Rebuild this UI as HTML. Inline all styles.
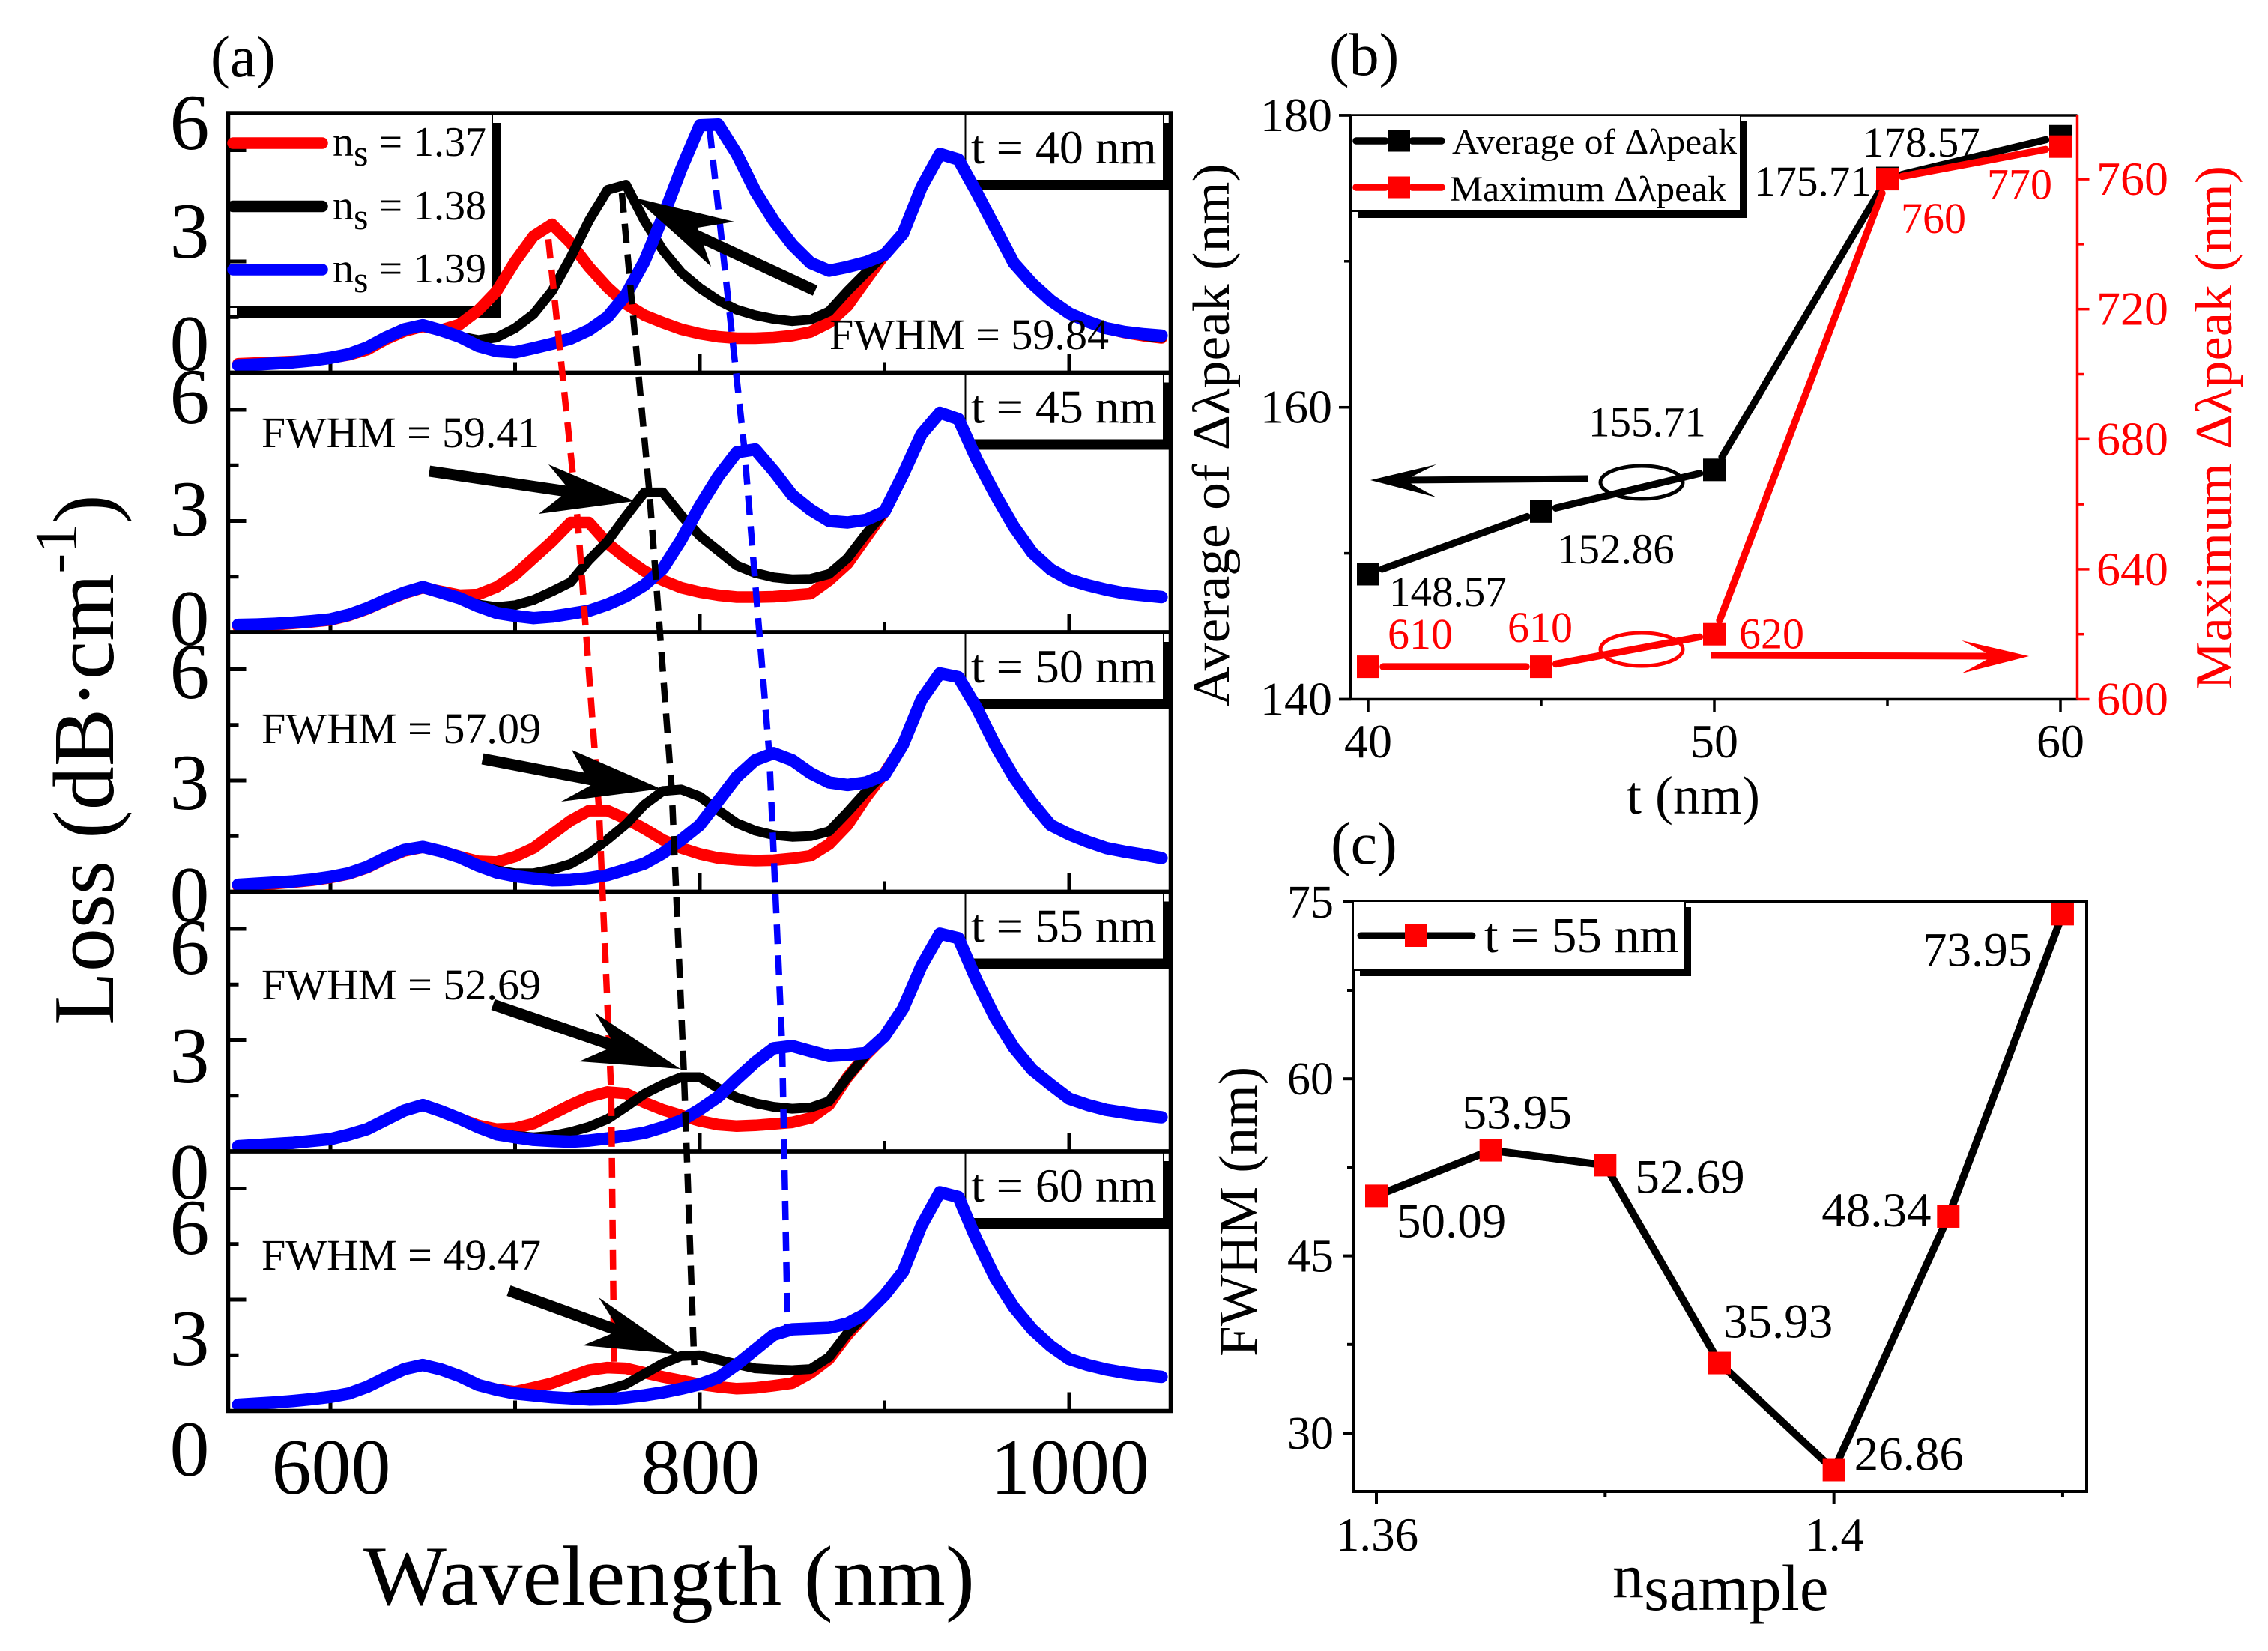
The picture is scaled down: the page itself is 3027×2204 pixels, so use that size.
<!DOCTYPE html>
<html lang="en">
<head>
<meta charset="utf-8">
<title>Loss spectra and peak shift charts</title>
<style>
html,body{margin:0;padding:0;background:#fff;}
svg{display:block;font-family:"Liberation Serif","DejaVu Serif",serif;}
</style>
</head>
<body>
<svg id="figure" xmlns="http://www.w3.org/2000/svg" width="3027" height="2204" viewBox="0 0 3027 2204">
<rect x="0" y="0" width="3027" height="2204" fill="#fff"/>

<g id="a-boxes">
  <g>
    <rect x="304" y="151" width="353" height="259" fill="#fff" stroke="#000" stroke-width="2"/>
    <rect x="657" y="164" width="11" height="260" fill="#000"/>
    <rect x="316" y="410" width="352" height="14" fill="#000"/>
  </g>
</g>
<g id="a-ticks"></g>
<g id="a-curves"></g>
<g id="a-frames"></g>
<g id="a-dashes"></g>
<g id="a-labels"></g>

<g>
  <g>
    <line x1="311" y1="191" x2="430" y2="191" stroke="#f00" stroke-width="15.5" stroke-linecap="round"/>
    <text x="444" y="208" font-size="56">n<tspan font-size="50" dy="13">s</tspan><tspan dy="-13"> = 1.37</tspan></text>
  </g>
  <g>
    <line x1="311" y1="275.500" x2="430" y2="275.500" stroke="#000" stroke-width="15.5" stroke-linecap="round"/>
    <text x="444" y="293" font-size="56">n<tspan font-size="50" dy="13">s</tspan><tspan dy="-13"> = 1.38</tspan></text>
  </g>
  <g>
    <line x1="311" y1="360" x2="430" y2="360" stroke="#00f" stroke-width="15.5" stroke-linecap="round"/>
    <text x="444" y="377" font-size="56">n<tspan font-size="50" dy="13">s</tspan><tspan dy="-13"> = 1.39</tspan></text>
  </g>
</g>

<g font-size="58">
  <text x="1107" y="466" textLength="373" lengthAdjust="spacingAndGlyphs">FWHM = 59.84</text>
  <text x="349" y="597" textLength="371" lengthAdjust="spacingAndGlyphs">FWHM = 59.41</text>
  <text x="349" y="992" textLength="373" lengthAdjust="spacingAndGlyphs">FWHM = 57.09</text>
  <text x="349" y="1334" textLength="373" lengthAdjust="spacingAndGlyphs">FWHM = 52.69</text>
  <text x="349" y="1695" textLength="373" lengthAdjust="spacingAndGlyphs">FWHM = 49.47</text>
</g>

<g fill="#000" stroke="#000">
  <g><polygon stroke="none" points="847,264 980,296 931,304 949,356 912,322"/><line x1="1088" y1="388" x2="920" y2="310" stroke-width="15"/></g>
  <g><line x1="573" y1="629" x2="770" y2="658" stroke-width="15"/><polygon stroke="none" points="847,669 732,620 760,654 719,686"/></g>
  <g><line x1="644" y1="1013" x2="795" y2="1042" stroke-width="15"/><polygon stroke="none" points="882,1053 763,1001 789,1048 749,1070"/></g>
  <g><line x1="658" y1="1341" x2="825" y2="1398" stroke-width="15"/><polygon stroke="none" points="908,1427 794,1352 821,1396 773,1417"/></g>
  <g><line x1="679" y1="1723" x2="830" y2="1778" stroke-width="15"/><polygon stroke="none" points="908,1808 799,1732 827,1776 778,1796"/></g>
</g>

<text x="281" y="102" font-size="78">(a)</text>
<text transform="translate(151,1368) rotate(-90)" font-size="116">Loss (dB·cm<tspan font-size="80" dy="-49">-1</tspan><tspan dy="49">)</tspan></text>
<text x="485" y="2142" font-size="113" textLength="816" lengthAdjust="spacingAndGlyphs">Wavelength (nm)</text>

<g id="b-plot"></g>
<g>
  <rect x="1803" y="154" width="520" height="128" fill="#fff" stroke="#000" stroke-width="2"/>
  <rect x="2323" y="161" width="9" height="130" fill="#000"/>
  <rect x="1812" y="282" width="520" height="9" fill="#000"/>
  <g>
    <line x1="1810" y1="188" x2="1849" y2="188" stroke="#000" stroke-width="9.500" stroke-linecap="round"/>
    <line x1="1885" y1="188" x2="1924" y2="188" stroke="#000" stroke-width="9.500" stroke-linecap="round"/>
    <rect x="1852" y="173.500" width="30" height="29" fill="#000"/>
    <text x="1938" y="205" font-size="48" textLength="380" lengthAdjust="spacingAndGlyphs">Average of Δλpeak</text>
  </g>
  <g>
    <line x1="1810" y1="250" x2="1849" y2="250" stroke="#f00" stroke-width="9.500" stroke-linecap="round"/>
    <line x1="1885" y1="250" x2="1924" y2="250" stroke="#f00" stroke-width="9.500" stroke-linecap="round"/>
    <rect x="1852" y="235.500" width="30" height="29" fill="#f00"/>
    <text x="1935" y="268" font-size="48" textLength="369" lengthAdjust="spacingAndGlyphs">Maximum Δλpeak</text>
  </g>
</g>
<g>
  <g>
    <line x1="2120" y1="639" x2="1870" y2="641" stroke="#000" stroke-width="9"/>
    <polygon points="1829,641 1917,620 1875,641 1917,664" fill="#000"/>
  </g>
  <ellipse cx="2191" cy="644" rx="55" ry="22" fill="none" stroke="#000" stroke-width="5"/>
  <ellipse cx="2191" cy="867" rx="55" ry="22" fill="none" stroke="#f00" stroke-width="5"/>
  <g>
    <line x1="2283" y1="875" x2="2665" y2="876" stroke="#f00" stroke-width="9"/>
    <polygon points="2708,876 2618,855 2660,876 2618,899" fill="#f00"/>
  </g>
</g>
<text x="1774" y="100" font-size="80">(b)</text>
<text transform="translate(1640,943) rotate(-90)" font-size="70" textLength="725" lengthAdjust="spacingAndGlyphs">Average of Δλpeak (nm)</text>
<text transform="translate(2978,921) rotate(-90)" font-size="70" fill="#f00" textLength="700" lengthAdjust="spacingAndGlyphs">Maximum Δλpeak (nm)</text>
<text x="2171" y="1086" font-size="72">t (nm)</text>

<g id="c-plot"></g>
<g>
  <rect x="1806" y="1203" width="443" height="92" fill="#fff" stroke="#000" stroke-width="2"/>
  <rect x="2249" y="1211" width="8" height="91" fill="#000"/>
  <rect x="1815" y="1295" width="442" height="8" fill="#000"/>
  <g>
    <line x1="1816" y1="1249" x2="1965" y2="1249" stroke="#000" stroke-width="9" stroke-linecap="round"/>
    <rect x="1875" y="1234" width="30" height="30" fill="#f00"/>
    <text x="1981" y="1271" font-size="67">t = 55 nm</text>
  </g>
</g>
<text x="1776" y="1153" font-size="80">(c)</text>
<text transform="translate(1677,1811) rotate(-90)" font-size="73" textLength="387" lengthAdjust="spacingAndGlyphs">FWHM (nm)</text>
<text x="2152" y="2132" font-size="84">n<tspan dy="17" font-size="87">sample</tspan></text>

<script>
// ---------- Panel (a) data ----------
var wavelengths = [550,560,570,580,590,600,610,620,630,640,650,660,670,680,690,700,710,720,730,740,750,760,770,780,790,800,810,820,830,840,850,860,870,880,890,900,910,920,930,940,950,960,970,980,990,1000,1010,1020,1030,1040,1050];

var red40 = [.24,.26,.28,.3,.33,.4,.48,.62,.9,1.12,1.25,1.15,1.3,1.68,2.2,3,3.68,4,3.5,2.85,2.3,1.85,1.55,1.35,1.17,1.05,.97,.93,.93,.95,1,1.1,1.35,1.8,2.5,3.18,3.75,5,5.9,5.75,4.85,3.9,2.96,2.4,1.95,1.6,1.38,1.2,1.08,1,.94];
var black40 = [.2,.22,.25,.28,.33,.4,.5,.68,.95,1.17,1.28,1.13,.98,.88,.95,1.2,1.58,2.2,3.1,4.1,4.93,5.07,4.1,3.3,2.7,2.28,1.95,1.7,1.55,1.45,1.39,1.43,1.65,2.2,2.7,3.18,3.75,5,5.9,5.75,4.85,3.9,2.96,2.4,1.95,1.6,1.38,1.2,1.08,1,.94];
var blue40 = [.2,.22,.25,.28,.33,.4,.5,.68,.95,1.17,1.28,1.14,.97,.72,.58,.55,.66,.78,.92,1.15,1.5,2.1,3,4.2,5.5,6.67,6.69,5.9,4.9,4.1,3.45,2.96,2.75,2.85,2.98,3.18,3.75,5,5.9,5.75,4.85,3.9,2.96,2.4,1.95,1.6,1.38,1.2,1.1,1.04,1];

var red45 = [.15,.17,.2,.24,.28,.33,.45,.63,.85,1.05,1.2,1.1,1,1.02,1.22,1.55,2,2.45,2.96,2.96,2.4,2,1.65,1.4,1.2,1.08,1,.95,.95,.96,1,1.04,1.4,1.85,2.55,3.25,4.25,5.34,5.92,5.75,4.65,3.71,2.85,2.15,1.7,1.42,1.27,1.15,1.05,1,.95];
var black45 = [.2,.21,.23,.26,.3,.35,.47,.65,.87,1.07,1.22,1.07,.92,.75,.68,.73,.87,1.1,1.35,1.95,2.45,3.13,3.77,3.77,3.15,2.6,2.2,1.8,1.6,1.48,1.43,1.44,1.57,2,2.65,3.25,4.25,5.34,5.92,5.75,4.65,3.71,2.85,2.15,1.7,1.42,1.27,1.15,1.05,1,.95];
var blue45 = [.2,.21,.23,.26,.3,.35,.47,.65,.87,1.07,1.22,1.07,.92,.7,.52,.44,.38,.42,.5,.58,.75,.97,1.27,1.72,2.5,3.4,4.2,4.85,4.93,4.35,3.7,3.3,3,2.96,3.03,3.25,4.25,5.34,5.92,5.75,4.65,3.71,2.85,2.15,1.7,1.42,1.27,1.15,1.05,1,.95];

var red50 = [.15,.18,.22,.26,.31,.38,.48,.65,.9,1.1,1.2,1.09,.95,.82,.8,.95,1.18,1.55,1.92,2.19,2.19,1.97,1.7,1.4,1.18,1.02,.91,.86,.84,.85,.9,.97,1.28,1.8,2.55,3.2,3.97,5.18,5.89,5.79,4.95,3.95,3.1,2.4,1.8,1.55,1.35,1.18,1.08,1,.91];
var black50 = [.19,.22,.25,.28,.33,.4,.5,.67,.92,1.13,1.21,1.09,.93,.72,.58,.5,.5,.6,.75,1.03,1.41,1.82,2.35,2.72,2.76,2.57,2.2,1.85,1.65,1.53,1.48,1.5,1.63,2.15,2.7,3.2,3.97,5.18,5.89,5.79,4.95,3.95,3.1,2.4,1.8,1.55,1.35,1.18,1.08,1,.91];
var blue50 = [.19,.22,.25,.28,.33,.4,.5,.67,.92,1.13,1.21,1.09,.93,.7,.52,.42,.36,.31,.32,.37,.45,.6,.76,1.04,1.4,1.8,2.45,3.1,3.55,3.74,3.55,3.2,2.95,2.88,2.95,3.15,3.97,5.18,5.89,5.79,4.95,3.95,3.1,2.4,1.8,1.55,1.35,1.18,1.08,1,.91];

var red55 = [.14,.17,.2,.23,.28,.33,.45,.6,.85,1.1,1.25,1.08,.88,.7,.6,.62,.75,1,1.25,1.47,1.6,1.56,1.32,1.12,.97,.82,.72,.68,.7,.74,.78,.9,1.25,2,2.6,3.1,3.85,5,5.87,5.75,4.6,3.6,2.8,2.2,1.8,1.42,1.25,1.12,1.04,.97,.92];
var black55 = [.14,.17,.2,.23,.28,.33,.45,.6,.85,1.1,1.25,1.08,.88,.65,.5,.42,.38,.42,.52,.66,.87,1.2,1.55,1.8,2,2,1.7,1.45,1.3,1.2,1.15,1.18,1.35,2,2.6,3.1,3.85,5,5.87,5.75,4.6,3.6,2.8,2.2,1.8,1.42,1.25,1.12,1.04,.97,.92];
var blue55 = [.14,.17,.2,.23,.28,.33,.45,.6,.85,1.1,1.25,1.08,.88,.65,.46,.38,.31,.28,.26,.29,.35,.42,.5,.65,.83,1.13,1.47,1.95,2.4,2.78,2.84,2.7,2.57,2.6,2.65,3.1,3.85,5,5.87,5.75,4.6,3.6,2.8,2.2,1.8,1.42,1.25,1.12,1.04,.97,.92];

var red60 = [.17,.2,.23,.27,.32,.38,.47,.65,.9,1.13,1.24,1.12,.94,.7,.58,.52,.63,.75,.93,1.1,1.17,1.15,1.03,.92,.82,.72,.65,.6,.62,.68,.75,1.02,1.4,2.05,2.6,3.12,3.75,5,5.9,5.77,4.6,3.58,2.8,2.2,1.75,1.4,1.24,1.12,1.03,.97,.92];
var black60 = [.17,.2,.23,.27,.32,.38,.47,.65,.9,1.13,1.24,1.12,.94,.7,.57,.47,.42,.38,.38,.45,.57,.72,1,1.28,1.48,1.5,1.38,1.26,1.15,1.12,1.1,1.13,1.45,2.1,2.6,3.12,3.75,5,5.9,5.77,4.6,3.58,2.8,2.2,1.75,1.4,1.24,1.12,1.03,.97,.92];
var blue60 = [.17,.2,.23,.27,.32,.38,.47,.65,.9,1.13,1.24,1.12,.94,.7,.57,.47,.42,.37,.34,.31,.32,.36,.42,.5,.6,.72,.9,1.25,1.65,2.05,2.2,2.22,2.24,2.36,2.62,3.12,3.75,5,5.9,5.77,4.6,3.58,2.8,2.2,1.75,1.4,1.24,1.12,1.03,.97,.92];

// Peak positions joined by the dashed guides, one per thickness panel
var redPeakWavelength = [718,734,745.4,752,753.6];
var redPeakLoss = [3.6,2.96,2.24,1.6,1.3];
var blackPeakWavelength = [757.8,772.8,784.8,791.5,797];
var blackPeakLoss = [4.84,3.7,2.77,2,1.24];
var bluePeakWavelength = [805.3,824,837.6,844.6,847.5];
var bluePeakLoss = [6.57,4.99,3.72,2.85,2.3];

var thicknessLabels = ['40','45','50','55','60'];
var lossTicks = [6,3];
var lossMinorTicks = [4.5,1.5];
var wavelengthMajorTicks = [600,800,1000];
var wavelengthMinorTicks = [700,900];

// ---------- Panel (b) data ----------
var thicknessValues = [40,45,50,55,60];
var averageShift = [148.57,152.86,155.71,175.71,178.57];
var maximumShift = [610,610,620,760,770];
var averageLabels = ['148.57','152.86','155.71','175.71','178.57'];
var maximumLabels = ['610','610','620','760','770'];
var thicknessTickLabels = [40,50,60];
var thicknessMinorTicks = [45,55];
var averageTickLabels = [140,160,180];
var averageMinorTicks = [150,170];
var maximumTickLabels = [600,640,680,720,760];
var maximumMinorTicks = [620,660,700,740];

// ---------- Panel (c) data ----------
var sampleIndex = [1.36,1.37,1.38,1.39,1.40,1.41,1.42];
var fwhmValues = [50.09,53.95,52.69,35.93,26.86,48.34,73.95];
var fwhmLabels = ['50.09','53.95','52.69','35.93','26.86','48.34','73.95'];
var sampleTicks = [1.36,1.40];
var sampleTickLabels = ['1.36','1.4'];
var sampleMinorTicks = [1.38,1.42];
var fwhmTicks = [30,45,60,75];
var fwhmMinorTicks = [37.5,52.5,67.5];

// ---------- Helpers ----------
var NS = 'http://www.w3.org/2000/svg';
function make(tag, attrs, parent, text) {
  var el = document.createElementNS(NS, tag);
  for (var k in attrs) { el.setAttribute(k, attrs[k]); }
  if (text !== undefined) { el.textContent = text; }
  parent.appendChild(el);
  return el;
}
function g(id) { return document.getElementById(id); }

// ---------- Panel (a) axes ----------
var panelTop = 151, panelHeight = 346.5, panelLeft = 304.5, panelRight = 1562.5;
function xA(w) { return 441 + (w - 600) * 2.465; }
function panelBottom(i) { return panelTop + panelHeight * (i + 1); }
function yA(i, v) { return panelBottom(i) - v * 49.5; }

var seriesByPanel = [
  [red40, black40, blue40],
  [red45, black45, blue45],
  [red50, black50, blue50],
  [red55, black55, blue55],
  [red60, black60, blue60]
];
var seriesColors = ['#f00', '#000', '#00f'];
var seriesWidths = [15.5, 13, 16.5];
var seriesNames = ['red', 'black', 'blue'];

var lossLabelBaselines = [
  [199,344,494],
  [565,715,861],
  [932,1080,1230],
  [1300,1445,1600],
  [1674,1822,1970]
];
var lossLabelTexts = ['6','3','0'];

thicknessLabels.forEach(function (t, i) {
  var top = panelBottom(i) - panelHeight;

  var box = make('g', {}, g('a-boxes'));
  
  
  make('rect', {x: 1288.5, y: top, width: 264.5, height: 90, fill: '#fff', stroke: '#000', 'stroke-width': 2}, box);
  make('rect', {x: 1553, y: top + 13, width: 10, height: 90, fill: '#000'}, box);
  make('rect', {x: 1300, y: top + 90, width: 263, height: 13, fill: '#000'}, box);
  make('text', {x: 1296, y: top + 67, 'font-size': 64}, box, 't = ' + t + ' nm');

  wavelengthMajorTicks.forEach(function (w) {
    var l = make('line', {x1: xA(w), x2: xA(w), y1: panelBottom(i), y2: panelBottom(i) - 25, stroke: '#000', 'stroke-width': 5}, g('a-ticks'));
    
    
  });
  wavelengthMinorTicks.forEach(function (w) {
    var l = make('line', {x1: xA(w), x2: xA(w), y1: panelBottom(i), y2: panelBottom(i) - 14, stroke: '#000', 'stroke-width': 5}, g('a-ticks'));
    
    
  });
  lossTicks.forEach(function (v) {
    var l = make('line', {x1: panelLeft, x2: panelLeft + 24, y1: yA(i, v), y2: yA(i, v), stroke: '#000', 'stroke-width': 5}, g('a-ticks'));
    
    
  });
  lossMinorTicks.forEach(function (v) {
    var l = make('line', {x1: panelLeft, x2: panelLeft + 14, y1: yA(i, v), y2: yA(i, v), stroke: '#000', 'stroke-width': 5}, g('a-ticks'));
    
    
  });

  seriesByPanel[i].forEach(function (values, s) {
    var pts = values.map(function (v, k) { return xA(wavelengths[k]).toFixed(1) + ',' + yA(i, v).toFixed(1); }).join(' ');
    var line = make('polyline', {points: pts, fill: 'none', stroke: seriesColors[s], 'stroke-width': seriesWidths[s], 'stroke-linecap': 'round', 'stroke-linejoin': 'round'}, g('a-curves'));
    
    
  });

  var frame = make('rect', {x: panelLeft, y: top, width: panelRight - panelLeft, height: panelHeight, fill: 'none', stroke: '#000', 'stroke-width': 5.5}, g('a-frames'));
  
  

  lossLabelTexts.forEach(function (label, k) {
    var tx = make('text', {x: 253, y: lossLabelBaselines[i][k], 'font-size': 106, 'text-anchor': 'middle'}, g('a-labels'), label);
    
    
  });
});

wavelengthMajorTicks.forEach(function (w) {
  var tx = make('text', {x: xA(w) + 1, y: 1994, 'font-size': 106, 'text-anchor': 'middle'}, g('a-labels'), String(w));
  
  
});

[[redPeakWavelength, redPeakLoss, '#f00', 'red'], [blackPeakWavelength, blackPeakLoss, '#000', 'black'], [bluePeakWavelength, bluePeakLoss, '#00f', 'blue']].forEach(function (d) {
  var pts = d[0].map(function (w, i) { return xA(w).toFixed(1) + ',' + yA(i, d[1][i]).toFixed(1); }).join(' ');
  var guide = make('polyline', {points: pts, fill: 'none', stroke: d[2], 'stroke-width': 8.5, 'stroke-dasharray': '26 15'}, g('a-dashes'));
  
  
});

// ---------- Panel (b) axes ----------
var bLeft = 1803, bRight = 2772.5, bTop = 154, bBottom = 933.5;
function xB(t) { return 1826 + (t - 40) * 46.2; }
function yBL(v) { return bBottom - (v - 140) * 19.49; }
function yBR(v) { return bBottom - (v - 600) * 4.34; }

var bp = g('b-plot');
function bLine(name, x1, y1, x2, y2, color, width) {
  var l = make('line', {x1: x1, y1: y1, x2: x2, y2: y2, stroke: color, 'stroke-width': width}, bp);
  
  
  return l;
}
thicknessTickLabels.forEach(function (t) {
  bLine('b-x-tick', xB(t), bBottom, xB(t), bBottom + 17, '#000', 3.5);
  var tx = make('text', {x: xB(t), y: 1011, 'font-size': 64, 'text-anchor': 'middle'}, bp, String(t));
  
  
});
thicknessMinorTicks.forEach(function (t) { bLine('b-x-minor-tick', xB(t), bBottom, xB(t), bBottom + 9, '#000', 3.5); });
averageTickLabels.forEach(function (v) {
  bLine('b-left-tick', bLeft, yBL(v), bLeft - 16, yBL(v), '#000', 3.5);
  var tx = make('text', {x: 1778, y: yBL(v) + 21, 'font-size': 64, 'text-anchor': 'end'}, bp, String(v));
  
  
});
averageMinorTicks.forEach(function (v) { bLine('b-left-minor-tick', bLeft, yBL(v), bLeft - 9, yBL(v), '#000', 3.5); });
maximumTickLabels.forEach(function (v) {
  bLine('b-right-tick', bRight, yBR(v), bRight + 16, yBR(v), '#f00', 3.5);
  var tx = make('text', {x: 2798, y: yBR(v) + 21, 'font-size': 64, fill: '#f00'}, bp, String(v));
  
  
});
maximumMinorTicks.forEach(function (v) { bLine('b-right-minor-tick', bRight, yBR(v), bRight + 9, yBR(v), '#f00', 3.5); });
bLine('b-top-spine', bLeft - 16, bTop, bRight, bTop, '#000', 3.5);
bLine('b-left-spine', bLeft, bTop, bLeft, bBottom, '#000', 4);
bLine('b-bottom-spine', bLeft - 16, bBottom, bRight, bBottom, '#000', 3.5);
bLine('b-right-spine', bRight, bTop, bRight, bBottom, '#f00', 3.5);

function drawGappedSeries(values, yFn, color, name) {
  var gap = 20;
  values.forEach(function (v, i) {
    if (i < values.length - 1) {
      var x1 = xB(thicknessValues[i]), y1 = yFn(v), x2 = xB(thicknessValues[i + 1]), y2 = yFn(values[i + 1]);
      var d = Math.sqrt((x2 - x1) * (x2 - x1) + (y2 - y1) * (y2 - y1));
      var ux = (x2 - x1) / d, uy = (y2 - y1) / d;
      var seg = make('line', {x1: x1 + ux * gap, y1: y1 + uy * gap, x2: x2 - ux * gap, y2: y2 - uy * gap, stroke: color, 'stroke-width': 9.5, 'stroke-linecap': 'round'}, bp);
      
      
    }
  });
  values.forEach(function (v, i) {
    var m = make('rect', {x: xB(thicknessValues[i]) - 15, y: yFn(v) - 15, width: 30, height: 30, fill: color}, bp);
    
    
  });
}
drawGappedSeries(averageShift, yBL, '#000', 'average-shift');
drawGappedSeries(maximumShift, yBR, '#f00', 'maximum-shift');

var averageLabelOffsets = [[28,42.5],[21,69],[-168,-45],[-178,23.5],[-264,27]];
var maximumLabelOffsets = [[26,-24],[-45,-33],[33,19],[18,72],[-98,70]];
averageLabels.forEach(function (s, i) {
  var tx = make('text', {x: xB(thicknessValues[i]) + averageLabelOffsets[i][0], y: yBL(averageShift[i]) + averageLabelOffsets[i][1], 'font-size': 57}, bp, s);
  
  
});
maximumLabels.forEach(function (s, i) {
  var tx = make('text', {x: xB(thicknessValues[i]) + maximumLabelOffsets[i][0], y: yBR(maximumShift[i]) + maximumLabelOffsets[i][1], 'font-size': 58, fill: '#f00'}, bp, s);
  
  
});

// ---------- Panel (c) axes ----------
var cLeft = 1806, cRight = 2785, cTop = 1203.5, cBottom = 1991;
function xC(n) { return 1837 + (n - 1.36) * 15266; }
function yC(v) { return 1913 - (v - 30) * 15.76; }
var cp = g('c-plot');
function cLine(name, x1, y1, x2, y2, width) {
  var l = make('line', {x1: x1, y1: y1, x2: x2, y2: y2, stroke: '#000', 'stroke-width': width}, cp);
  
  
  return l;
}
sampleTicks.forEach(function (n, i) {
  cLine('c-x-tick', xC(n), cBottom, xC(n), cBottom + 17, 4);
  var tx = make('text', {x: xC(n) + 1, y: 2070, 'font-size': 63, 'text-anchor': 'middle'}, cp, sampleTickLabels[i]);
  
  
});
sampleMinorTicks.forEach(function (n) { cLine('c-x-minor-tick', xC(n), cBottom, xC(n), cBottom + 8, 4); });
fwhmTicks.forEach(function (v) {
  cLine('c-y-tick', cLeft, yC(v), cLeft - 14, yC(v), 4);
  var tx = make('text', {x: 1780, y: yC(v) + 21, 'font-size': 62, 'text-anchor': 'end'}, cp, String(v));
  
  
});
fwhmMinorTicks.forEach(function (v) { cLine('c-y-minor-tick', cLeft, yC(v), cLeft - 8, yC(v), 4); });
var cFrame = make('rect', {x: cLeft, y: cTop, width: cRight - cLeft, height: cBottom - cTop, fill: 'none', stroke: '#000', 'stroke-width': 4}, cp);



var cPts = fwhmValues.map(function (v, i) { return xC(sampleIndex[i]).toFixed(1) + ',' + yC(v).toFixed(1); }).join(' ');
var cLinePath = make('polyline', {points: cPts, fill: 'none', stroke: '#000', 'stroke-width': 10}, cp);



var fwhmLabelOffsets = [[27,55],[-38,-29],[40,37],[5,-34],[27,0],[-169,13],[-187,69]];
fwhmValues.forEach(function (v, i) {
  var m = make('rect', {x: xC(sampleIndex[i]) - 15, y: yC(v) - 15, width: 30, height: 30, fill: '#f00'}, cp);
  
  
  var tx = make('text', {x: xC(sampleIndex[i]) + fwhmLabelOffsets[i][0], y: yC(v) + fwhmLabelOffsets[i][1], 'font-size': 65}, cp, fwhmLabels[i]);
  
  
});
</script>
</svg>
</body>
</html>
